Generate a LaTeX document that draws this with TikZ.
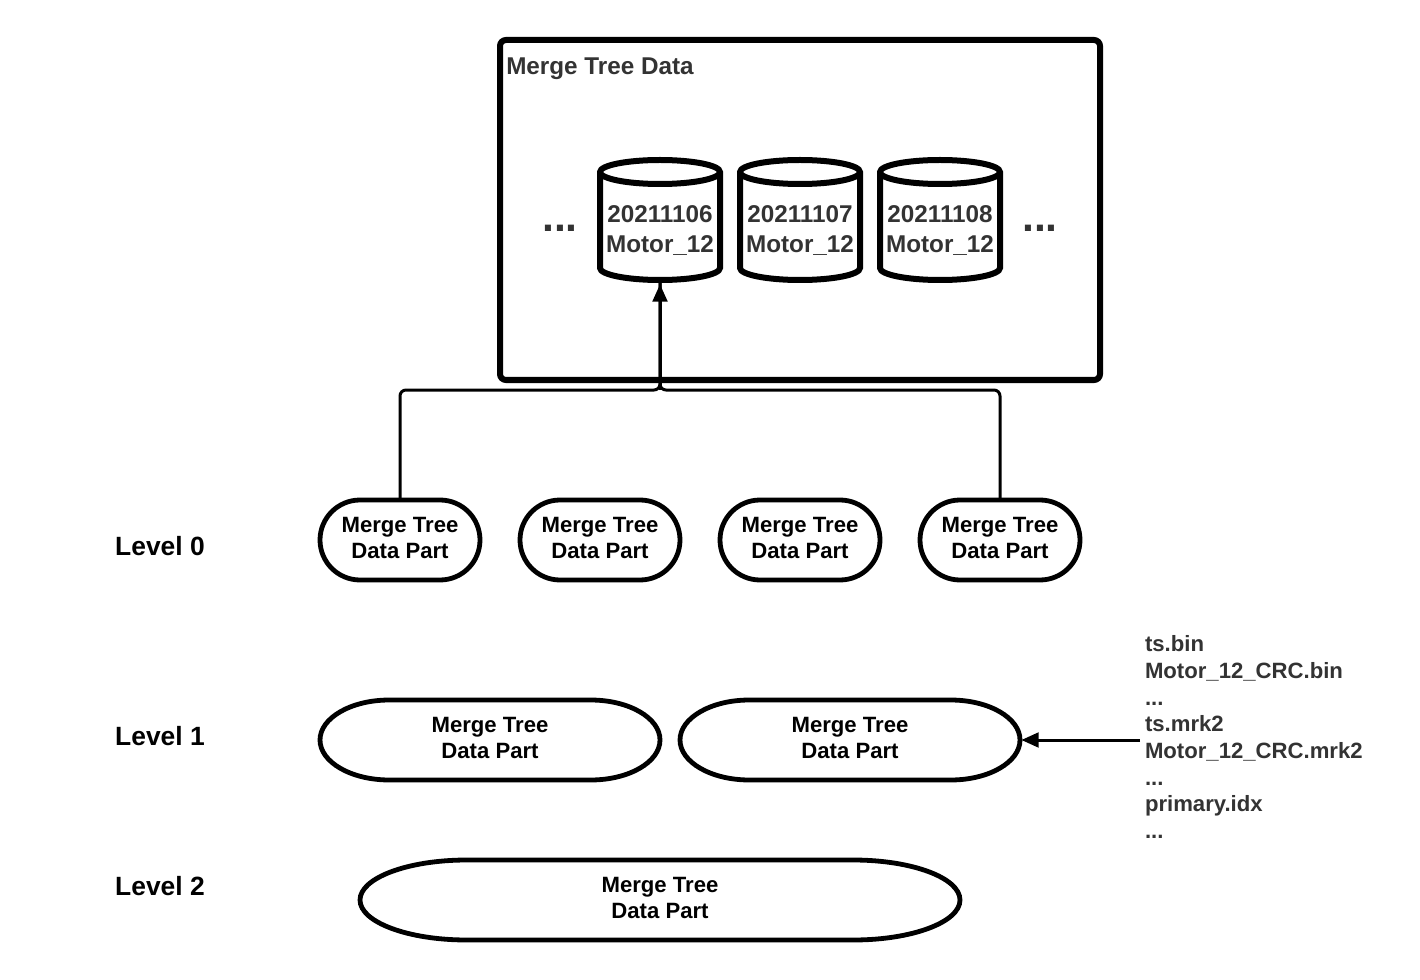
\documentclass[tikz,border=0pt]{standalone}
\usepackage{fontspec}
\setmainfont{Liberation Sans}
\usetikzlibrary{arrows.meta,positioning,calc}
\definecolor{dtext}{HTML}{333333}
\tikzset{
  x=0.75pt,y=-0.75pt,
  partbox/.style={inner sep=0pt,outer sep=0pt,font=\bfseries\fontsize{16.6}{19.5}\selectfont,text=black,align=center},
  cylbox/.style={inner sep=0pt,outer sep=0pt,minimum width=90pt,minimum height=90pt,font=\bfseries\fontsize{18.2}{22.5}\selectfont,text=dtext,align=center},
  levellabel/.style={inner sep=0pt,font=\bfseries\fontsize{19.8}{24}\selectfont,text=black},
  dotslabel/.style={inner sep=0pt,font=\bfseries\fontsize{32}{36}\selectfont,text=dtext},
  partline/.style={draw=black,line width=3.6pt,fill=white},
  cylline/.style={draw=black,line width=4.5pt,fill=white},
  wire/.style={draw=black,line width=2.25pt},
  arrowwire/.style={wire,-{Triangle[length=13pt,width=11pt]},shorten >=3.2pt},
  arrowwireb/.style={wire,-{Triangle[length=13pt,width=11pt]},shorten >=1pt}
}
\newcommand{\partshape}[2]{%
  \draw[partline] ([xshift=#2]#1.north west) -- ([xshift=-#2]#1.north east)
    arc[start angle=90,end angle=-90,x radius=#2,y radius=30pt]
    -- ([xshift=#2]#1.south west)
    arc[start angle=270,end angle=90,x radius=#2,y radius=30pt] -- cycle;}
\newcommand{\cylshape}[1]{%
  \draw[cylline] ([yshift=-9pt]#1.north west) arc[start angle=180,end angle=0,x radius=45pt,y radius=9pt]
    -- ([yshift=9pt]#1.south east) arc[start angle=360,end angle=180,x radius=45pt,y radius=9pt] -- cycle;
  \draw[cylline,fill=none] ([yshift=-9pt]#1.north west) arc[start angle=180,end angle=360,x radius=45pt,y radius=9pt];}
\begin{document}
\begin{tikzpicture}
\fill[white] (0,0) rectangle (1420,980);
\useasboundingbox (0,0) rectangle (1420,980);

% outer box
\node[draw=black,line width=4.5pt,rounded corners=4.5pt,minimum width=450pt,minimum height=255pt,inner sep=0pt,outer sep=0pt] (data) at (800,210) {};
\node[anchor=west,inner sep=0pt,font=\bfseries\fontsize{18.2}{22}\selectfont,text=dtext] (title) at (506,69) {Merge Tree Data};

% cylinders
\node[cylbox] (c1) at (660,220) {};
\node[cylbox] (c2) at (800,220) {};
\node[cylbox] (c3) at (940,220) {};
\cylshape{c1}\cylshape{c2}\cylshape{c3}
\node[cylbox] (t1) at (660,231) {20211106\\Motor\_12};
\node[cylbox] (t2) at (800,231) {20211107\\Motor\_12};
\node[cylbox] (t3) at (940,231) {20211108\\Motor\_12};
\node[dotslabel] (d1) at (560,228) {...};
\node[dotslabel] (d2) at (1040,228) {...};

% level 0
\foreach \nm/\cx in {p1/400,p2/600,p3/800,p4/1000}{
  \node[minimum width=120pt,minimum height=60pt,inner sep=0pt,outer sep=0pt] (\nm) at (\cx,540) {};
  \partshape{\nm}{30pt}
  \node[partbox] at (\cx,538) {Merge Tree\\Data Part};
}
% level 1
\node[minimum width=255pt,minimum height=60pt,inner sep=0pt,outer sep=0pt] (q1) at (490,740) {};
\node[minimum width=255pt,minimum height=60pt,inner sep=0pt,outer sep=0pt] (q2) at (850,740) {};
\partshape{q1}{52pt}\partshape{q2}{52pt}
\node[partbox] (q1t) at (490,738) {Merge Tree\\Data Part};
\node[partbox] (q2t) at (850,738) {Merge Tree\\Data Part};
% level 2
\node[minimum width=450pt,minimum height=60pt,inner sep=0pt,outer sep=0pt] (r1) at (660,900) {};
\partshape{r1}{80pt}
\node[partbox] (r1t) at (660,898) {Merge Tree\\Data Part};

% level labels
\node[levellabel] (l0) at (160,546) {Level 0};
\node[levellabel] (l1) at (160,736) {Level 1};
\node[levellabel] (l2) at (160,886) {Level 2};

% file list
\node[anchor=west,inner sep=0pt,outer sep=0pt,align=left,text=dtext,font=\bfseries\fontsize{16.6}{20}\selectfont] (files) at (1145,737)
 {ts.bin\\Motor\_12\_CRC.bin\\...\\ts.mrk2\\Motor\_12\_CRC.mrk2\\...\\primary.idx\\...};

% connectors
\coordinate (bus) at (660,390);
\coordinate (fstart) at (1140,740);
\draw[wire,rounded corners=4.5pt] (p1.north) -- (p1.north |- bus) -- (bus) -- (c1.south);
\draw[wire,rounded corners=4.5pt] (p4.north) -- (p4.north |- bus) -- (bus) -- (c1.south);
\draw[arrowwire] (bus) -- (c1.south);
\draw[arrowwireb] (fstart) -- (q2.east);
\end{tikzpicture}
\end{document}
